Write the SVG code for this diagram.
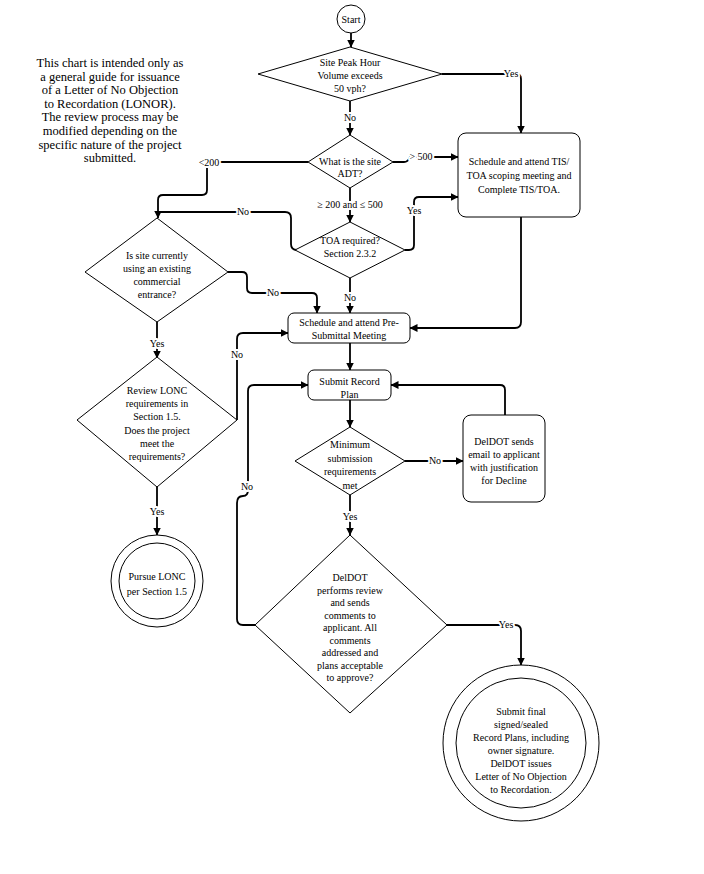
<svg xmlns="http://www.w3.org/2000/svg" width="704" height="874" viewBox="0 0 704 874">
<defs>
<marker id="arr" viewBox="0 0 8 8" refX="7.5" refY="4" markerWidth="8" markerHeight="8" markerUnits="userSpaceOnUse" orient="auto">
<path d="M0,0 L8,4 L0,8 z" fill="#000"/>
</marker>
<style>
.sh{fill:#fff;stroke:#000;stroke-width:1}
.t{font-family:"Liberation Serif","Times New Roman",serif;font-size:10px;fill:#000;text-anchor:middle}
.note{font-family:"Liberation Serif","Times New Roman",serif;font-size:12.5px;fill:#000;text-anchor:middle}
.c{fill:none;stroke:#000;stroke-width:1.8}
.a{marker-end:url(#arr)}
.lb{font-family:"Liberation Serif","Times New Roman",serif;font-size:10px;fill:#000;text-anchor:middle;stroke:#fff;stroke-width:4;paint-order:stroke;stroke-linejoin:round}
</style>
</defs>
<rect width="704" height="874" fill="#fff"/>

<g id="note">
<text class="note" x="110" y="67">This chart is intended only as</text>
<text class="note" x="110" y="80.6">a general guide for issuance</text>
<text class="note" x="110" y="94.2">of a Letter of No Objection</text>
<text class="note" x="110" y="107.8">to Recordation (LONOR).</text>
<text class="note" x="110" y="121.4">The review process may be</text>
<text class="note" x="110" y="135">modified depending on the</text>
<text class="note" x="110" y="148.6">specific nature of the project</text>
<text class="note" x="110" y="162.2">submitted.</text>
</g>

<g id="connectors">
<path class="c a" d="M351,33 V47"/>
<path class="c a" d="M442,74 H516 Q521,74 521,79 V133"/>
<path class="c a" d="M350,101 V135"/>
<path class="c a" d="M393,162 H404 Q408,162 410,157 H458"/>
<path class="c a" d="M308,162 H207 V190 Q207,195 202,195 H163 Q158,195 158,200 V218"/>
<path class="c a" d="M350,188 V222"/>
<path class="c" d="M297,250 Q291,250 291,244 V218 Q291,212 285,212 H158"/>
<path class="c a" d="M405,250 H409 Q414,250 414,245 V202 Q414,197 419,197 H458"/>
<path class="c a" d="M350,278 V313"/>
<path class="c a" d="M228,272 H242 Q247,272 247,277 V288 Q247,293 252,293 H312 Q317,293 317,298 V313"/>
<path class="c a" d="M521,217 V322 Q521,328 515,328 H410"/>
<path class="c a" d="M157,322 V358"/>
<path class="c a" d="M237,420 V339 Q237,333 243,333 H288"/>
<path class="c a" d="M350,343 V370"/>
<path class="c a" d="M157,485 V535"/>
<path class="c a" d="M350,400 V427"/>
<path class="c a" d="M405,461 H463"/>
<path class="c a" d="M505,415 V390 Q505,385 500,385 H391"/>
<path class="c a" d="M350,495 V535"/>
<path class="c a" d="M255,625 H243 Q237,625 237,619 V503 Q237,496 243,496 Q248,496 248,490 V391 Q248,385 254,385 H308"/>
<path class="c a" d="M447,625 H515 Q521,625 521,631 V665"/>
<text class="lb" x="511" y="77">Yes</text>
<text class="lb" x="350" y="121">No</text>
<text class="lb" x="421" y="160">&gt; 500</text>
<text class="lb" x="209" y="166">&lt;200</text>
<text class="lb" x="350" y="208">≥  200 and ≤  500</text>
<text class="lb" x="243" y="215">No</text>
<text class="lb" x="414" y="214">Yes</text>
<text class="lb" x="350" y="301">No</text>
<text class="lb" x="273" y="296">No</text>
<text class="lb" x="157" y="347">Yes</text>
<text class="lb" x="237" y="358">No</text>
<text class="lb" x="157" y="515">Yes</text>
<text class="lb" x="435" y="464">No</text>
<text class="lb" x="350" y="520">Yes</text>
<text class="lb" x="247" y="490">No</text>
<text class="lb" x="506" y="628">Yes</text>
</g>

<g id="start">
<circle class="sh" cx="351" cy="19" r="14"/>
<text class="t" x="351" y="23">Start</text>
</g>

<g id="peak">
<polygon class="sh" points="350,47 442,74 350,101 258,74"/>
<text class="t" x="350" y="66">Site Peak Hour</text>
<text class="t" x="350" y="79">Volume exceeds</text>
<text class="t" x="350" y="92">50 vph?</text>
</g>

<g id="adt">
<polygon class="sh" points="350,135 393,162 350,188 308,162"/>
<text class="t" x="350" y="165">What is the site</text>
<text class="t" x="350" y="177">ADT?</text>
</g>

<g id="tis">
<rect class="sh" x="458" y="133" width="122" height="84" rx="8"/>
<text class="t" x="519" y="165">Schedule and attend TIS/</text>
<text class="t" x="519" y="179">TOA scoping meeting and</text>
<text class="t" x="519" y="193">Complete TIS/TOA.</text>
</g>

<g id="toa">
<polygon class="sh" points="350,222 405,250 350,278 295,250"/>
<text class="t" x="350" y="244">TOA required?</text>
<text class="t" x="350" y="257">Section 2.3.2</text>
</g>

<g id="existing">
<polygon class="sh" points="157,218 228,272 157,322 85,272"/>
<text class="t" x="157" y="259">Is site currently</text>
<text class="t" x="157" y="272">using an existing</text>
<text class="t" x="157" y="285">commercial</text>
<text class="t" x="157" y="298">entrance?</text>
</g>

<g id="presub">
<rect class="sh" x="288" y="313" width="122" height="30" rx="6"/>
<text class="t" x="349" y="326">Schedule and attend Pre-</text>
<text class="t" x="349" y="339">Submittal Meeting</text>
</g>

<g id="lonc">
<polygon class="sh" points="157,357 237,420 157,487 77,420"/>
<text class="t" x="157" y="394">Review LONC</text>
<text class="t" x="157" y="407">requirements in</text>
<text class="t" x="157" y="420">Section 1.5.</text>
<text class="t" x="157" y="434">Does the project</text>
<text class="t" x="157" y="447">meet the</text>
<text class="t" x="157" y="460">requirements?</text>
</g>

<g id="submit">
<rect class="sh" x="308" y="370" width="83" height="30" rx="6"/>
<text class="t" x="349.5" y="385">Submit Record</text>
<text class="t" x="349.5" y="398">Plan</text>
</g>

<g id="minimum">
<polygon class="sh" points="350,427 405,461 350,495 295,461"/>
<text class="t" x="350" y="448">Minimum</text>
<text class="t" x="350" y="462">submission</text>
<text class="t" x="350" y="475">requirements</text>
<text class="t" x="350" y="489">met</text>
</g>

<g id="decline">
<rect class="sh" x="463" y="415" width="82" height="87" rx="8"/>
<text class="t" x="504" y="445">DelDOT sends</text>
<text class="t" x="504" y="458">email to applicant</text>
<text class="t" x="504" y="471">with justification</text>
<text class="t" x="504" y="484">for Decline</text>
</g>

<g id="pursue">
<circle class="sh" cx="157" cy="581" r="46"/>
<circle class="sh" cx="157" cy="581" r="38"/>
<text class="t" x="157" y="580">Pursue LONC</text>
<text class="t" x="157" y="595">per Section 1.5</text>
</g>

<g id="review">
<polygon class="sh" points="350,535 447,625 350,713 255,625"/>
<text class="t" x="350" y="581">DelDOT</text>
<text class="t" x="350" y="594">performs review</text>
<text class="t" x="350" y="606">and sends</text>
<text class="t" x="350" y="619">comments to</text>
<text class="t" x="350" y="631">applicant. All</text>
<text class="t" x="350" y="644">comments</text>
<text class="t" x="350" y="656">addressed and</text>
<text class="t" x="350" y="669">plans acceptable</text>
<text class="t" x="350" y="681">to approve?</text>
</g>

<g id="final">
<circle class="sh" cx="521" cy="743" r="78"/>
<circle class="sh" cx="521" cy="743" r="65"/>
<text class="t" x="521" y="715">Submit final</text>
<text class="t" x="521" y="728">signed/sealed</text>
<text class="t" x="521" y="741">Record Plans, including</text>
<text class="t" x="521" y="754">owner signature.</text>
<text class="t" x="521" y="767">DelDOT issues</text>
<text class="t" x="521" y="780">Letter of No Objection</text>
<text class="t" x="521" y="793">to Recordation.</text>
</g>
</svg>
